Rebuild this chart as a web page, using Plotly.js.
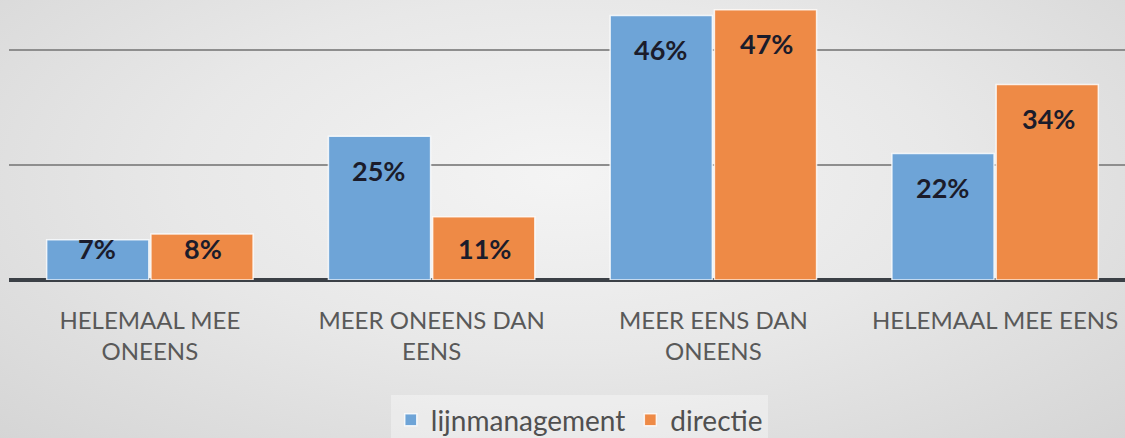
<!DOCTYPE html>
<html>
<head>
<meta charset="utf-8">
<script src="https://cdn.plot.ly/plotly-3.0.1.min.js"></script>
<style>
html,body{margin:0;padding:0;}
body{width:1125px;height:438px;overflow:hidden;
background:radial-gradient(ellipse 75% 90% at 50% 40%, #f4f4f4 0%, #e8e8e8 45%, #d3d3d3 100%);}
#chart{width:1125px;height:438px;}
</style>
</head>
<body>
<div id="chart"></div>
<script>
const categories = ["HELEMAAL MEE<br>ONEENS", "MEER ONEENS DAN<br>EENS", "MEER EENS DAN<br>ONEENS", "HELEMAAL MEE EENS"];
const seriesNames = ["lijnmanagement", "directie"];
const lijnmanagement = [7, 25, 46, 22];
const directie = [8, 11, 47, 34];
const tickVals = [0, 20, 40];

const colors = ["#6ea4d7", "#ee8a46"];
const xIdx = categories.map((c, i) => i);

const traces = [lijnmanagement, directie].map((vals, s) => ({
  type: "bar",
  name: seriesNames[s],
  x: xIdx,
  y: vals,
  marker: {color: colors[s], line: {color: "rgba(255,255,255,0.8)", width: 1.5}},
  hoverinfo: "skip"
}));

const annotations = [];
[lijnmanagement, directie].forEach((vals, s) => {
  vals.forEach((v, i) => {
    annotations.push({
      x: i, y: Math.max(v - 5.9, 5.4), xref: "x", yref: "y",
      text: v + "%", showarrow: false,
      xshift: s === 0 ? -53 : 53,
      yanchor: "middle",
      font: {family: "Lato", size: 27, color: "#1b1c2b", weight: "bold"}
    });
  });
});

const layout = {
  width: 1125, height: 438,
  margin: {l: 9, r: 0, t: 0, b: 158, autoexpand: false},
  paper_bgcolor: "rgba(0,0,0,0)",
  plot_bgcolor: "rgba(0,0,0,0)",
  barmode: "group",
  bargap: 0.26,
  bargroupgap: 0.02,
  showlegend: true,
  legend: {
    orientation: "h",
    x: 0.511, xanchor: "center",
    y: -0.5, yanchor: "middle",
    bgcolor: "rgba(255,255,255,0.35)",
    font: {family: "Lato", size: 28, color: "#505050"},
    itemwidth: 20,
    traceorder: "normal"
  },
  xaxis: {
    range: [-0.5, 3.461],
    tickmode: "array",
    tickvals: xIdx,
    ticktext: categories,
    showgrid: false,
    zeroline: false,
    showline: false,
    ticks: "",
    ticklabelstandoff: 24,
    tickfont: {family: "Lato", size: 24, color: "#595959"},
    fixedrange: true
  },
  yaxis: {
    range: [0, 48.7],
    tickmode: "array",
    tickvals: tickVals,
    showticklabels: false,
    showgrid: true,
    gridcolor: "#8e8e8e",
    gridwidth: 2,
    zeroline: true,
    zerolinecolor: "#3b4046",
    zerolinewidth: 3.5,
    fixedrange: true
  },
  annotations: annotations
};

Plotly.newPlot("chart", traces, layout, {displayModeBar: false, staticPlot: true});
</script>
</body>
</html>
